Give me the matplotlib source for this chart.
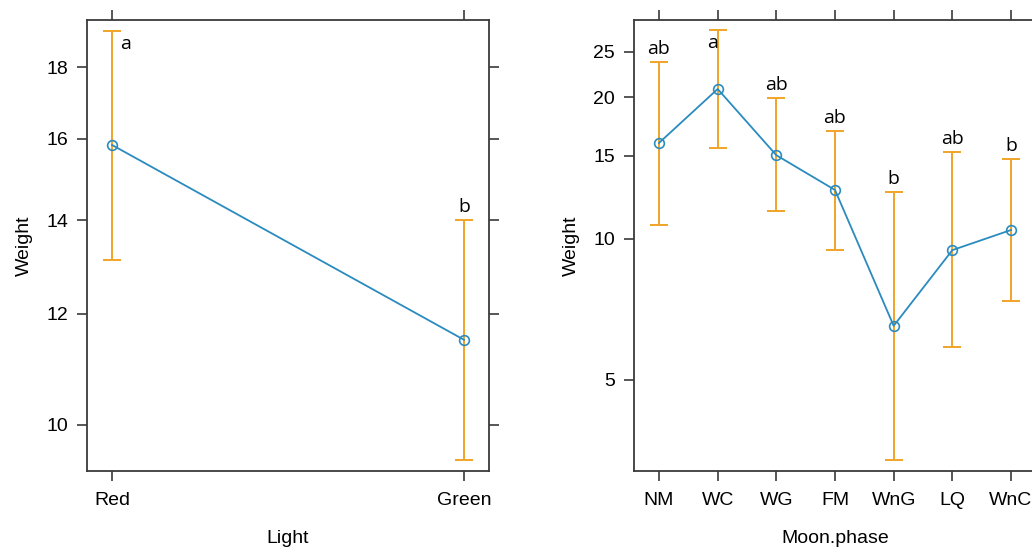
import numpy as np
import matplotlib.pyplot as plt
from matplotlib.ticker import FixedLocator, FixedFormatter, NullLocator

# Efectos estimados de Weight (escala log) con intervalos de confianza

light = ['Red', 'Green']
light_fit = [15.84, 11.50]
light_lower = [13.11, 9.44]
light_upper = [19.10, 14.00]
light_letters = ['a', 'b']

moon = ['NM', 'WC', 'WG', 'FM', 'WnG', 'LQ', 'WnC']
moon_fit = [15.98, 20.82, 15.05, 12.69, 6.52, 9.45, 10.43]
moon_lower = [10.69, 15.59, 11.45, 9.45, 3.38, 5.88, 7.37]
moon_upper = [23.77, 27.80, 19.92, 16.95, 12.57, 15.29, 14.77]
moon_letters = ['ab', 'a', 'ab', 'ab', 'b', 'ab', 'b']

light_yticks = [10, 12, 14, 16, 18]
moon_yticks = [5, 10, 15, 20, 25]

c_line = '#2a8bbf'
c_ci = '#f0a428'
c_box = '#3a3a3a'

plt.rcParams['font.family'] = ['Liberation Sans', 'DejaVu Sans']
plt.rcParams['font.size'] = 14

fig = plt.figure(figsize=(10.32, 5.48), dpi=100)
W, H = 1032, 548


def panel(px0, px1, py0, py1):
    return fig.add_axes([px0 / W, 1 - py1 / H, (px1 - px0) / W, (py1 - py0) / H])


def draw(ax, cats, fit, lo, hi, letters, yticks, ylim, xpad, xlabel, offsets):
    x = np.arange(1, len(cats) + 1)
    fit = np.array(fit)
    lo = np.array(lo)
    hi = np.array(hi)
    ax.errorbar(x, fit, yerr=[fit - lo, hi - fit], fmt='none', ecolor=c_ci,
                elinewidth=1.4, capsize=6.2, capthick=1.4, zorder=2)
    ax.plot(x, fit, color=c_line, lw=1.3, marker='o', ms=7, mfc='none',
            mec=c_line, mew=1.2, zorder=3)
    for xi, h, lab, (dx, dy, va) in zip(x, hi, letters, offsets):
        ax.annotate(lab, (xi, h), xytext=(dx, dy), textcoords='offset points',
                    ha='center', va=va, fontsize=14, family='Open Sans')
    ax.set_yscale('log')
    ax.set_ylim(*ylim)
    ax.set_xlim(1 - xpad, len(cats) + xpad)
    ax.yaxis.set_major_locator(FixedLocator(yticks))
    ax.yaxis.set_major_formatter(FixedFormatter([str(t) for t in yticks]))
    ax.yaxis.set_minor_locator(NullLocator())
    ax.set_xticks(x)
    ax.set_xticklabels(cats)
    ax.tick_params(direction='out', length=7.5, width=1.2, color=c_box,
                   top=True, right=True, labelsize=14)
    ax.tick_params(axis='y', pad=6)
    ax.tick_params(axis='x', pad=7.5)
    for s in ax.spines.values():
        s.set_color(c_box)
        s.set_linewidth(1.3)
    ax.set_ylabel('Weight', labelpad=10)
    ax.set_xlabel(xlabel, labelpad=15)


ax1 = panel(87, 489, 20, 471)
draw(ax1, light, light_fit, light_lower, light_upper, light_letters,
     light_yticks, (9.27, 19.45), 0.071, 'Light',
     [(9.5, -9, 'center'), (0, 3, 'bottom')])

ax2 = panel(634, 1036, 20, 471)
draw(ax2, moon, moon_fit, moon_lower, moon_upper, moon_letters,
     moon_yticks, (3.20, 29.2), 0.426, 'Moon.phase',
     [(0, 3, 'bottom'), (-3.5, -9, 'center'), (0, 3, 'bottom'),
      (0, 3, 'bottom'), (0, 3, 'bottom'), (0, 3, 'bottom'), (0, 3, 'bottom')])

fig.savefig('out.png', dpi=100)
